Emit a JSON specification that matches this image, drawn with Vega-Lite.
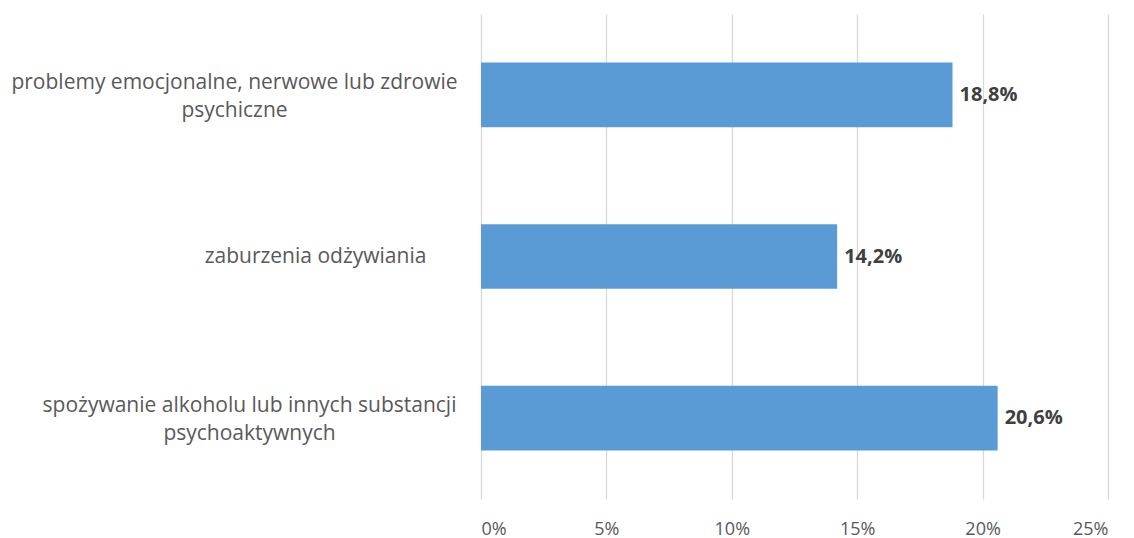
{
  "$schema": "https://vega.github.io/schema/vega-lite/v6.json",
  "width": 627,
  "height": 485,
  "autosize": {"type": "none"},
  "padding": {"left": 481, "top": 14, "right": 26, "bottom": 39},
  "background": "white",
  "config": {
    "locale": {"number": {"decimal": ",", "thousands": " ", "grouping": [3], "currency": ["", " zł"]}},
    "view": {"stroke": null},
    "font": "Open Sans"
  },
  "data": {
    "values": [
      {"category": "problemy emocjonalne, nerwowe lub zdrowie|psychiczne", "value": 0.188},
      {"category": "zaburzenia odżywiania", "value": 0.142},
      {"category": "spożywanie alkoholu lub innych substancji|psychoaktywnych", "value": 0.206}
    ]
  },
  "encoding": {
    "y": {
      "field": "category", "type": "nominal", "sort": null, "title": null,
      "scale": {"paddingInner": 0.6, "paddingOuter": 0.3},
      "axis": {
        "labelExpr": "split(datum.label, '|')",
        "labelAlign": "center",
        "labelPadding": {"condition": [
          {"test": "indexof(datum.value, 'zaburzenia') >= 0", "value": 166},
          {"test": "indexof(datum.value, 'problemy') >= 0", "value": 247}
        ], "value": 232},
        "labelOffset": {"condition": {"test": "indexof(datum.value, '|') >= 0", "value": -12}, "value": 0},
        "labelLineHeight": 28,
        "labelFontSize": 21, "labelColor": "#595959", "labelFont": "Open Sans",
        "labelLimit": 600,
        "domain": false, "ticks": false, "grid": false
      }
    },
    "x": {
      "field": "value", "type": "quantitative", "title": null,
      "scale": {"domain": [0, 0.25], "nice": false},
      "axis": {
        "format": ".0%", "values": [0, 0.05, 0.1, 0.15, 0.2, 0.25],
        "labelFontSize": 18, "labelColor": "#595959", "labelFont": "Open Sans",
        "labelPadding": 21, "domain": false, "ticks": false,
        "grid": true, "gridColor": "#d9d9d9", "gridWidth": 1.3
      }
    }
  },
  "layer": [
    {"mark": {"type": "bar", "color": "#5b9bd5"}},
    {
      "mark": {"type": "text", "align": "left", "baseline": "middle", "dx": 7, "fontSize": 20, "fontWeight": "bold", "color": "#404040", "font": "Open Sans"},
      "encoding": {"text": {"field": "value", "format": ".1%"}}
    }
  ]
}
